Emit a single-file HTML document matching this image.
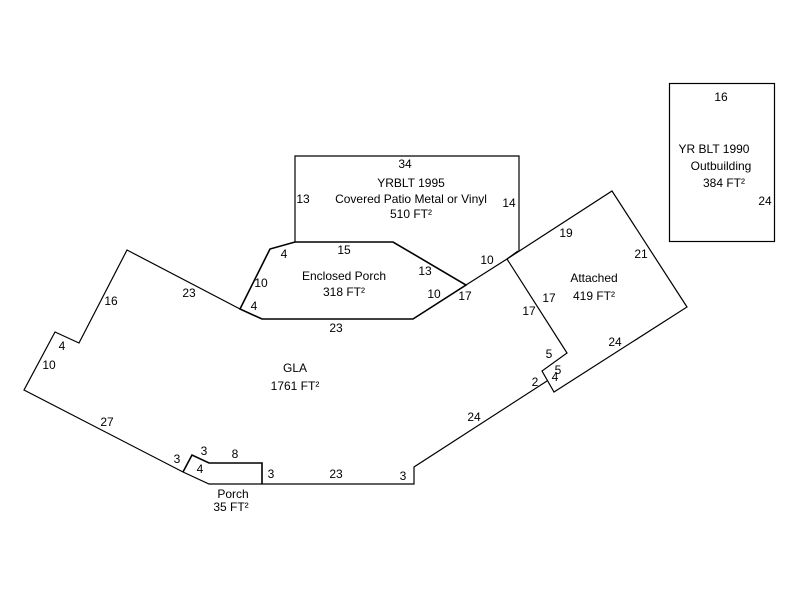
<!DOCTYPE html>
<html><head><style>body{margin:0;background:#fff}svg text{font-family:"Liberation Sans",sans-serif;font-size:12px;fill:#000}</style></head>
<body>
<svg width="800" height="600" viewBox="0 0 800 600" xmlns="http://www.w3.org/2000/svg">
<g fill="none" stroke="#000" stroke-width="1.2">
<rect x="669.5" y="83.5" width="105" height="158"/>
<polyline points="295,242 295,156 519,156 519,251"/>
<polyline points="240,309 127,250 79,343 55,332 24,390 183,472 209,484 414,484 414,467 547,381"/>
<polyline points="183,472 192,455 209,463 262,463 262,484" stroke-width="1.6"/>
<polygon points="240,309 270,249 295,242 393,242 466,285 413,319 262,319" stroke-width="1.6"/>
<polyline points="466,285 507,259 612,191 687,307 554,392 542,371 567,353 507,259"/>
<line x1="518" y1="251" x2="507" y2="259"/>
</g>
<g text-anchor="middle">
<text x="721" y="101">16</text>
<text x="714" y="153">YR BLT 1990</text>
<text x="721" y="170">Outbuilding</text>
<text x="724" y="187">384 FT²</text>
<text x="765" y="205">24</text>
<text x="405" y="168">34</text>
<text x="411" y="187">YRBLT 1995</text>
<text x="411" y="203">Covered Patio Metal or Vinyl</text>
<text x="411" y="218">510 FT²</text>
<text x="303" y="203">13</text>
<text x="509" y="207">14</text>
<text x="284" y="258">4</text>
<text x="344" y="254">15</text>
<text x="344" y="280">Enclosed Porch</text>
<text x="344" y="296">318 FT²</text>
<text x="425" y="275">13</text>
<text x="261" y="287">10</text>
<text x="254" y="310">4</text>
<text x="434" y="298">10</text>
<text x="465" y="300">17</text>
<text x="336" y="332">23</text>
<text x="487" y="264">10</text>
<text x="566" y="237">19</text>
<text x="641" y="258">21</text>
<text x="594" y="282">Attached</text>
<text x="594" y="300">419 FT²</text>
<text x="549" y="302">17</text>
<text x="529" y="315">17</text>
<text x="615" y="346">24</text>
<text x="549" y="358">5</text>
<text x="558" y="374">5</text>
<text x="555" y="381">4</text>
<text x="535" y="386">2</text>
<text x="474" y="421">24</text>
<text x="189" y="297">23</text>
<text x="111" y="305">16</text>
<text x="62" y="350">4</text>
<text x="49" y="369">10</text>
<text x="295" y="372">GLA</text>
<text x="295" y="390">1761 FT²</text>
<text x="107" y="426">27</text>
<text x="177" y="463">3</text>
<text x="204" y="455">3</text>
<text x="235" y="458">8</text>
<text x="200" y="473">4</text>
<text x="271" y="478">3</text>
<text x="336" y="478">23</text>
<text x="403" y="480">3</text>
<text x="233" y="498">Porch</text>
<text x="231" y="511">35 FT²</text>
</g>
</svg>
</body></html>
